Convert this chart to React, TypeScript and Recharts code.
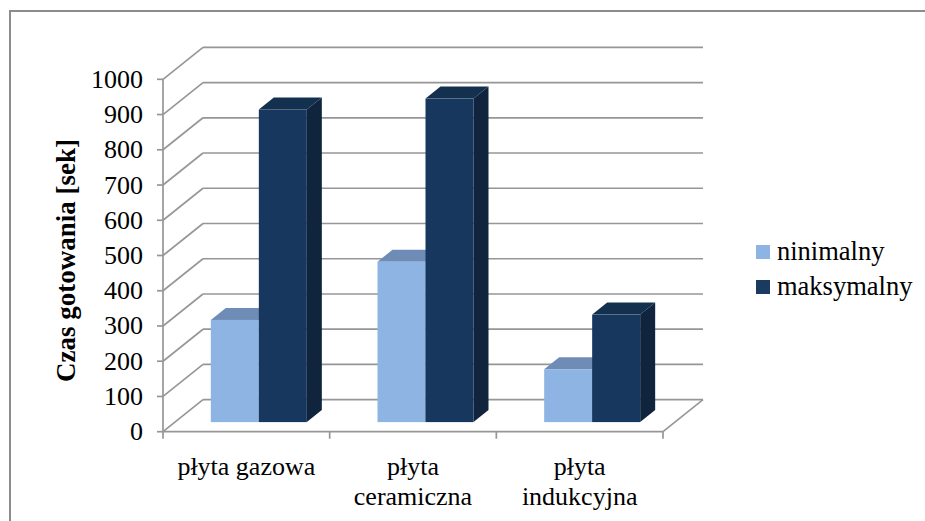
import React from "react";
import { BarChart, Bar, XAxis, YAxis, CartesianGrid, Legend } from "recharts";

// chart data
const categories = ["płyta gazowa", "płyta ceramiczna", "płyta indukcyjna"];
const tickLines = [["płyta gazowa"], ["płyta", "ceramiczna"], ["płyta", "indukcyjna"]];
const seriesNames = ["ninimalny", "maksymalny"];
const minValues = [290, 455, 150];
const maxValues = [887, 918, 305];
const yTicks = [0, 100, 200, 300, 400, 500, 600, 700, 800, 900, 1000];

const data = categories.map((c, i) => ({
  name: c,
  ninimalny: minValues[i],
  maksymalny: maxValues[i],
}));

// layout (front plane of the 3D box)
const W = 925;
const H = 521;
const FRONT_LEFT = 163;
const FRONT_RIGHT = 663;
const FRONT_TOP = 79.3;
const FRONT_BOTTOM = 431.7;
const X_AXIS_H = 60;
const WALL_DX = 40;
const WALL_DY = -32;
const BAR_DX = 12;
const BAR_DY = -9.6;
const DEPTH_DX = 15;
const DEPTH_DY = -12;
const GRID = "#969696";
const FONT = "Liberation Serif";

const make3DBar = (front: string, top: string, side: string) => (props: any) => {
  const { x, y, width, height } = props;
  if (width == null || height == null) return null;
  const x0 = x + BAR_DX;
  const y0 = y + BAR_DY;
  const x1 = x0 + width;
  const y1 = y0 + height;
  return (
    <g>
      <polygon
        points={`${x1},${y0} ${x1 + DEPTH_DX},${y0 + DEPTH_DY} ${x1 + DEPTH_DX},${y1 + DEPTH_DY} ${x1},${y1}`}
        fill={side}
      />
      <polygon
        points={`${x0},${y0} ${x0 + DEPTH_DX},${y0 + DEPTH_DY} ${x1 + DEPTH_DX},${y0 + DEPTH_DY} ${x1},${y0}`}
        fill={top}
      />
      <rect x={x0} y={y0} width={width} height={height} fill={front} />
    </g>
  );
};

const GridLine = (props: any) => {
  const { x1, y1, x2, y2 } = props;
  const isFloor = Math.abs(y1 - FRONT_BOTTOM) < 1;
  return (
    <g stroke={GRID} strokeWidth={1.7} fill="none">
      <line x1={x1} y1={y1} x2={x1 + WALL_DX} y2={y1 + WALL_DY} />
      <line x1={x1 + WALL_DX} y1={y1 + WALL_DY} x2={x2 + WALL_DX} y2={y2 + WALL_DY} />
      {isFloor && <line x1={x2} y1={y2} x2={x2 + WALL_DX} y2={y2 + WALL_DY} />}
    </g>
  );
};

const CategoryTick = (props: any) => {
  const { x, payload, index } = props;
  const band = (FRONT_RIGHT - FRONT_LEFT) / categories.length;
  const lines = tickLines[index] ?? [String(payload.value)];
  return (
    <g>
      <line x1={x - band / 2} y1={FRONT_BOTTOM} x2={x - band / 2} y2={FRONT_BOTTOM + 7} stroke={GRID} strokeWidth={1.7} />
      {index === categories.length - 1 && (
        <line x1={x + band / 2} y1={FRONT_BOTTOM} x2={x + band / 2} y2={FRONT_BOTTOM + 7} stroke={GRID} strokeWidth={1.7} />
      )}
      <text x={x} y={FRONT_BOTTOM + 43} textAnchor="middle" fontFamily={FONT} fontSize={26} fill="#000">
        {lines.map((l: string, i: number) => (
          <tspan key={i} x={x} dy={i === 0 ? 0 : 30}>
            {l}
          </tspan>
        ))}
      </text>
    </g>
  );
};

const ValueTick = (props: any) => {
  const { x, y, payload } = props;
  return (
    <text x={x} y={y} dy={8.5} textAnchor="end" fontFamily={FONT} fontSize={26} fill="#000">
      {payload.value}
    </text>
  );
};

const YLabel = (props: any) => {
  const vb = props.viewBox ?? { x: 0, y: FRONT_TOP, width: FRONT_LEFT, height: FRONT_BOTTOM - FRONT_TOP };
  const cx = 66;
  const cy = vb.y + vb.height / 2 + 5;
  return (
    <text
      x={cx}
      y={cy}
      transform={`rotate(-90, ${cx}, ${cy})`}
      textAnchor="middle"
      dominantBaseline="central"
      fontFamily={FONT}
      fontWeight="bold"
      fontSize={27}
      fill="#000"
    >
      Czas gotowania [sek]
    </text>
  );
};

const LegendContent = (props: any) => {
  const items = [...(props.payload ?? [])].sort(
    (a: any, b: any) => seriesNames.indexOf(a.value) - seriesNames.indexOf(b.value)
  );
  return (
    <div style={{ fontFamily: FONT, fontSize: 26.5, color: "#000", lineHeight: "35px" }}>
      {items.map((it: any, i: number) => (
        <div key={i} style={{ display: "flex", alignItems: "center", height: 35 }}>
          <span style={{ display: "inline-block", width: 14, height: 14, background: it.color, marginRight: 7 }} />
          <span style={{ fontFamily: FONT }}>{it.value}</span>
        </div>
      ))}
    </div>
  );
};

export default function App() {
  return (
    <div style={{ position: "fixed", left: 0, top: 0, width: W, height: H, overflow: "hidden", background: "#fff" }}>
      <svg width={W} height={H} style={{ position: "absolute", left: 0, top: 0 }}>
        <rect x={10} y={11} width={W + 100} height={H + 100} fill="none" stroke="#8c8c8c" strokeWidth={2} />
      </svg>
      <div style={{ position: "absolute", left: 0, top: 0 }}>
        <BarChart
          width={W}
          height={H}
          data={data}
          margin={{ top: FRONT_TOP, right: W - FRONT_RIGHT, bottom: H - FRONT_BOTTOM - X_AXIS_H, left: 0 }}
          barCategoryGap="21.5%"
          barGap={0}
        >
          <CartesianGrid horizontal={(p: any) => <GridLine {...p} />} vertical={false} />
          <XAxis
            dataKey="name"
            height={X_AXIS_H}
            axisLine={{ stroke: GRID, strokeWidth: 1.7 }}
            tickLine={false}
            tick={(p: any) => <CategoryTick {...p} />}
            interval={0}
          />
          <YAxis
            width={FRONT_LEFT}
            domain={[0, 1000]}
            ticks={yTicks}
            interval={0}
            axisLine={{ stroke: GRID, strokeWidth: 1.7 }}
            tickLine={{ stroke: GRID, strokeWidth: 1.7 }}
            tickSize={6}
            tickMargin={14}
            tick={(p: any) => <ValueTick {...p} />}
            label={(p: any) => <YLabel {...p} />}
          />
          <Legend
            layout="horizontal"
            align="center"
            verticalAlign="middle"
            content={(p: any) => <LegendContent {...p} />}
            wrapperStyle={{ left: 756, top: 234, width: 170, height: 70 }}
          />
          <Bar
            dataKey="ninimalny"
            name="ninimalny"
            fill="#8EB4E3"
            isAnimationActive={false}
            shape={make3DBar("#8EB4E3", "#6E8CB6", "#6A88B0")}
          />
          <Bar
            dataKey="maksymalny"
            name="maksymalny"
            fill="#1B3A60"
            isAnimationActive={false}
            shape={make3DBar("#18375E", "#14304F", "#10243E")}
          />
        </BarChart>
      </div>
    </div>
  );
}
